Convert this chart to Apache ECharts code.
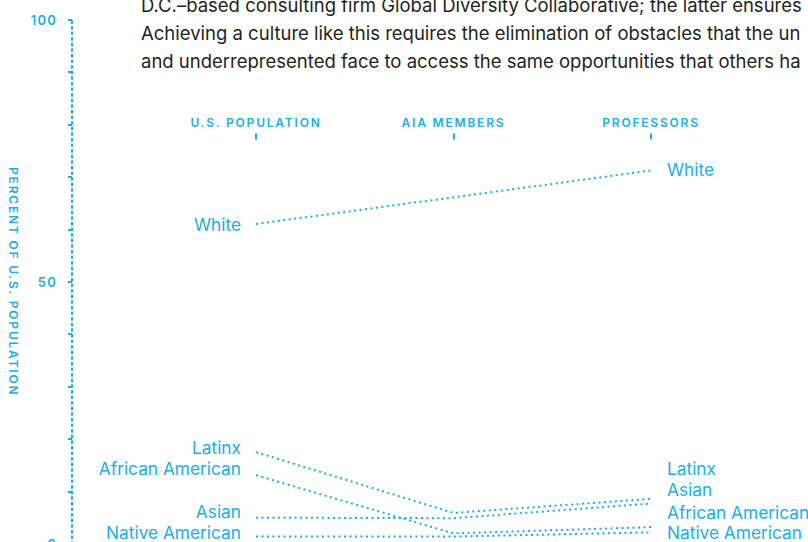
<!DOCTYPE html>
<html><head><meta charset="utf-8">
<script src="https://cdn.jsdelivr.net/npm/echarts@6/dist/echarts.min.js"></script>
<style>html,body{margin:0;padding:0;background:#fff;overflow:hidden}#c{width:808px;height:542px}</style>
</head><body><div id="c"></div>
<script>
// ---- data ----
const categories = ['U.S. POPULATION', 'AIA MEMBERS', 'PROFESSORS'];
const groups = ['White', 'Latinx', 'African American', 'Asian', 'Native American'];
const white = [61.0, 66.1, 71.2];
const latinx = [17.5, 5.9, 8.6];
const africanAmerican = [13.1, 2.0, 3.2];
const asian = [5.0, 4.9, 7.7];
const nativeAmerican = [1.4, 1.4, 2.2];
const yTickLabels = [0, 50, 100];
const axisTitle = 'PERCENT OF U.S. POPULATION';
const paragraphLines = [
  'D.C.–based consulting firm Global Diversity Collaborative; the latter ensures',
  'Achieving a culture like this requires the elimination of obstacles that the un',
  'and underrepresented face to access the same opportunities that others ha'
];

// ---- style ----
const CYAN = '#1aaeea';
const seriesValues = [white, latinx, africanAmerican, asian, nativeAmerican];
const leftNudge = [0, -5, -7, -6, -4];
const rightNudge = [-1, -30, -15, -14, 0];
const labelFont = 'Inter';

// size paragraph font so the second line spans the same width as in the reference
const mctx = document.createElement('canvas').getContext('2d');
mctx.font = '400 20px Inter';
const paraSize = Math.min(18.5, 20 * 664 / mctx.measureText(paragraphLines[1]).width);

const chart = echarts.init(document.getElementById('c'), null, {renderer: 'svg'});

const series = groups.map((name, si) => ({
  type: 'line',
  name: name,
  silent: true,
  xAxisIndex: 0, yAxisIndex: 0,
  symbol: 'circle',
  symbolSize: 0,
  showSymbol: true,
  itemStyle: {color: CYAN},
  lineStyle: {color: CYAN, width: 2, type: [2, 3.5]},
  label: {formatter: name, color: CYAN, fontFamily: labelFont, fontSize: 17.3, lineHeight: 18},
  emphasis: {disabled: true},
  data: seriesValues[si].map((v, i) => ({
    value: v,
    label: i === 0 ? {show: true, position: 'left', distance: 15, offset: [0, leftNudge[si]]}
         : i === categories.length - 1 ? {show: true, position: 'right', distance: 16, offset: [0, rightNudge[si]]}
         : {show: false}
  }))
}));

const option = {
  animation: false,
  backgroundColor: '#fff',
  grid: [
    {left: 157.25, width: 592.5, top: 19.5, height: 524.4, containLabel: false, outerBoundsMode: 'none'},
    {left: 157.25, width: 592.5, top: 138.5, height: 1, containLabel: false, outerBoundsMode: 'none'}
  ],
  xAxis: [
    {
      gridIndex: 0, type: 'category', data: categories, boundaryGap: true,
      axisLine: {show: false}, axisTick: {show: false}, axisLabel: {show: false}, splitLine: {show: false}
    },
    {
      gridIndex: 1, type: 'category', data: categories, position: 'top', boundaryGap: true,
      axisLine: {show: false},
      axisTick: {show: true, alignWithLabel: true, length: 6, lineStyle: {color: CYAN, width: 2}},
      axisLabel: {color: CYAN, fontFamily: labelFont, fontWeight: 600, fontSize: 12, margin: 10},
      splitLine: {show: false}
    }
  ],
  yAxis: [
    {
      gridIndex: 0, type: 'value',
      min: 0, max: 100, interval: 10,
      offset: 85.25,
      name: axisTitle,
      nameLocation: 'middle',
      nameRotate: -90,
      nameGap: 53,
      nameTextStyle: {color: CYAN, fontFamily: labelFont, fontWeight: 600, fontSize: 12},
      axisLine: {show: true, lineStyle: {color: CYAN, width: 2, type: [2, 3.6]}},
      axisTick: {show: true, length: 4, lineStyle: {color: CYAN, width: 2}},
      axisLabel: {
        color: CYAN, fontFamily: labelFont, fontWeight: 600, fontSize: 13, margin: 15,
        formatter: v => yTickLabels.indexOf(v) >= 0 ? String(v) : ''
      },
      splitLine: {show: false}
    },
    {
      gridIndex: 1, type: 'value', show: false
    }
  ],
  graphic: paragraphLines.map((t, i) => ({
    type: 'text', x: 141, y: 5 + i * 28, silent: true,
    style: {text: t, fill: '#231f20', font: '400 ' + paraSize.toFixed(2) + 'px Inter', verticalAlign: 'middle', align: 'left'}
  })),
  series: series
};
chart.setOption(option);

const spacing = {'U.S. POPULATION': 1.8, 'AIA MEMBERS': 1.8, 'PROFESSORS': 1.8};
spacing[axisTitle] = 1.8;
yTickLabels.forEach(v => spacing[String(v)] = 1.2);
document.querySelectorAll('#c text').forEach(t => {
  const k = t.textContent;
  if (spacing[k] != null) t.setAttribute('letter-spacing', spacing[k]);
});
</script>
</body></html>
